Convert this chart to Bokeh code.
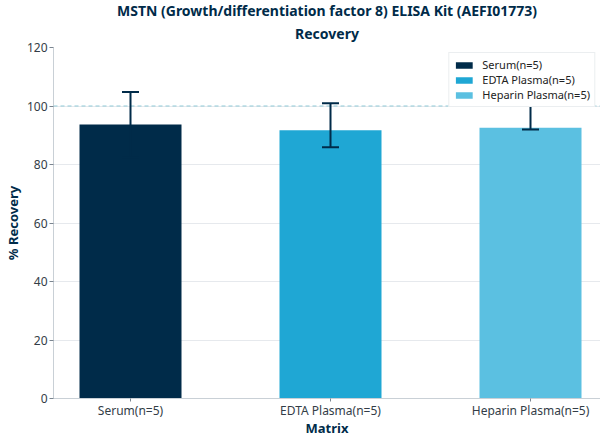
from bokeh.plotting import figure
from bokeh.models import Range1d, FixedTicker, Span, ColumnDataSource, Whisker, Legend, LegendItem, Title
from bokeh.embed import file_html
from bokeh.resources import INLINE

title_main = "MSTN (Growth/differentiation factor 8) ELISA Kit (AEFI01773)"
title_sub = "Recovery"
categories = ["Serum(n=5)", "EDTA Plasma(n=5)", "Heparin Plasma(n=5)"]
recovery = [93.7, 91.7, 92.6]
err_lower = [82.5, 85.9, 92.0]
err_upper = [104.8, 100.9, 103.0]
colors = ["#002b49", "#1fa7d4", "#5bc0e1"]
y_ticks = [0, 20, 40, 60, 80, 100, 120]

FONT = "Noto Sans"
NAVY = "#002b49"

xs = list(range(len(categories)))

p = figure(output_backend="svg", toolbar_location=None,
           x_range=Range1d(-0.385, 2.35), y_range=Range1d(0, 120),
           min_border_left=0, min_border_right=0, min_border_top=0, min_border_bottom=0)
p.frame_width = 547
p.frame_height = 351

p.title = None
t_sub = Title(text=title_sub, align="center", text_font=FONT, text_font_size="14px",
              text_font_style="bold", text_color=NAVY, standoff=9)
t_main = Title(text=title_main, align="center",
               text_font=FONT, text_font_size="14px", text_font_style="bold", text_color=NAVY,
               standoff=-4)
p.add_layout(t_sub, "above")
p.add_layout(t_main, "above")

p.outline_line_color = None
p.background_fill_color = "white"

src = ColumnDataSource(dict(x=xs, lower=err_lower, upper=err_upper))
bars = []
for i in xs:
    s = ColumnDataSource(dict(x=[xs[i]], top=[recovery[i]]))
    r = p.vbar(x="x", top="top", width=0.51, bottom=0, source=s, fill_color=colors[i], line_color=None)
    bars.append(r)

p.add_layout(Span(location=100, dimension="width", line_color="#8fc9d6", line_dash="4 3", line_width=1))

w = Whisker(source=src, base="x", lower="lower", upper="upper", line_color=NAVY, line_width=2,
            level="annotation")
for h in (w.upper_head, w.lower_head):
    h.size = 17
    h.line_color = NAVY
    h.line_width = 2
p.add_layout(w)

legend = Legend(items=[LegendItem(label=categories[i], renderers=[bars[i]]) for i in xs],
                location="top_right", label_text_font=FONT, label_text_font_size="11px",
                label_text_color="#222222", glyph_width=21, glyph_height=8,
                label_height=12, spacing=0, padding=4, margin=5, label_standoff=8,
                border_line_color="#d8dde2", background_fill_alpha=1.0)
p.add_layout(legend)

p.xgrid.grid_line_color = None
p.ygrid.grid_line_color = "#e6e9ed"
p.ygrid.ticker = FixedTicker(ticks=y_ticks)

p.xaxis.ticker = FixedTicker(ticks=xs)
p.xaxis.major_label_overrides = {i: c for i, c in enumerate(categories)}
p.yaxis.ticker = FixedTicker(ticks=y_ticks)

for ax in (p.xaxis[0], p.yaxis[0]):
    ax.axis_line_color = "#c9d0d6"
    ax.major_tick_line_color = "#7a8590"
    ax.major_tick_in = 0
    ax.major_tick_out = 4
    ax.minor_tick_line_color = None
    ax.major_label_text_font = FONT
    ax.major_label_text_font_size = "12px"
    ax.major_label_text_color = "#333d47"
    ax.axis_label_text_font = FONT
    ax.axis_label_text_font_size = "13px"
    ax.axis_label_text_font_style = "bold"
    ax.axis_label_text_color = NAVY

p.xaxis.major_tick_out = 3
p.xaxis.axis_label = "Matrix"
p.yaxis.axis_label = "% Recovery"
p.xaxis.axis_label_standoff = -3
p.yaxis.axis_label_standoff = 2
p.xaxis.major_label_standoff = 0
p.yaxis.major_label_standoff = 2

open("out.html", "w").write(file_html(p, INLINE))
